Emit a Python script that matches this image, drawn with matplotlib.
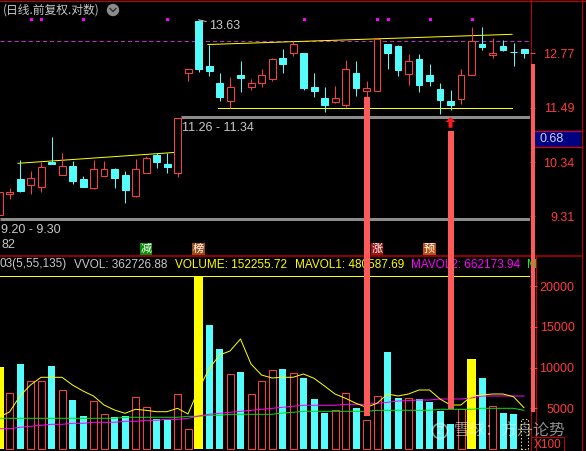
import matplotlib
matplotlib.use("Agg")
import matplotlib.pyplot as plt
import matplotlib.transforms as mtransforms
from matplotlib.patches import Rectangle, Circle, Polygon
from matplotlib.ticker import FixedLocator, FixedFormatter, NullLocator

plt.rcParams['lines.scale_dashes'] = False
plt.rcParams['font.family'] = ['Liberation Sans', 'Noto Sans CJK SC', 'DejaVu Sans']

# ---------------- data ----------------
opens = [9.328, 9.717, 10.004, 9.894, 9.856, 10.346, 10.088, 10.260, 9.998, 9.836,
         10.068, 10.200, 10.082, 9.685, 10.115, 10.481, 10.300, 10.115, 12.283, 13.597,
         12.459, 12.054, 11.647, 12.243, 11.968, 12.047, 12.155, 12.654, 12.770, 12.777,
         11.961, 11.708, 11.624, 11.550, 12.291, 11.875, 11.875, 13.003, 12.952, 12.274,
         12.629, 12.243, 11.915, 11.640, 11.685, 12.243, 13.003, 12.728, 12.952, 12.802,
         12.877]
closes = [9.760, 9.760, 9.774, 10.018, 10.240, 10.300, 10.260, 9.971, 9.856, 10.194,
          10.194, 10.029, 9.793, 10.194, 10.414, 10.346, 10.246, 11.262, 12.379, 12.387,
          12.346, 11.738, 11.954, 12.179, 12.047, 12.243, 12.622, 12.507, 12.995, 11.938,
          11.868, 11.550, 11.708, 12.387, 11.938, 11.938, 13.130, 12.777, 12.363, 12.580,
          12.008, 12.101, 11.663, 11.550, 12.243, 13.079, 12.927, 12.777, 12.852, 12.795,
          12.777]
highs = [9.760, 9.836, 10.380, 10.161, 10.346, 10.860, 10.522, 10.360, 10.063, 10.380,
         10.360, 10.226, 10.161, 10.400, 10.461, 10.516, 10.516, 11.262, 12.379, 13.63,
         12.978, 12.291, 12.188, 12.580, 12.141, 12.379, 12.661, 12.877, 13.086, 12.777,
         12.291, 11.961, 11.984, 12.605, 12.580, 12.101, 13.130, 13.003, 12.978, 12.753,
         12.753, 12.507, 12.054, 11.891, 12.387, 13.439, 13.439, 13.155, 13.104, 13.028,
         12.877]
lows = [9.328, 9.617, 9.760, 9.722, 9.760, 10.294, 10.088, 9.907, 9.856, 9.817,
        10.068, 9.836, 9.554, 9.666, 10.115, 10.226, 10.115, 10.037, 12.108, 12.307,
        12.219, 11.647, 11.476, 11.852, 11.891, 11.968, 12.101, 12.291, 12.711, 11.898,
        11.731, 11.401, 11.588, 11.505, 11.754, 11.731, 11.875, 12.387, 12.219, 12.014,
        11.852, 11.984, 11.357, 11.445, 11.573, 12.243, 12.852, 12.654, 12.827, 12.459,
        12.654]
volumes = [10068, 6843, 10436, 8351, 8351, 10191, 7247, 6021, 4059, 5898,
           4304, 3936, 4059, 6389, 5163, 3691, 3569, 6757, 2465, 21227,
           15218, 12275, 9210, 9455, 6757, 8351, 9700, 9823, 9332, 8719,
           6144, 4427, 4795, 6880, 5040, 3569, 6512, 11907, 6266, 6266,
           6144, 5776, 4672, 3078, 4917, 11049, 8719, 5285, 4427, 4304,
           3691]
mavol1 = [3936, 4550, 6512, 7861, 8805, 8805, 8805, 7861, 7125, 6512,
          5408, 4795, 4390, 4881, 4758, 4586, 4586, 5003, 4304, 7309,
          9823, 11539, 12030, 13502, 10436, 9087, 8719, 8805, 8805, 9210,
          8682, 7738, 6757, 6230, 5616, 5126, 5616, 6757, 6512, 6757,
          7247, 7247, 6144, 5408, 5408, 6512, 6634, 6757, 6757, 6426,
          5077]
mavol2 = [2502, 2502, 2673, 2796, 2919, 3041, 3041, 3164, 3164, 3286,
          3286, 3286, 3409, 3409, 3532, 3532, 3654, 3654, 3777, 4059,
          4268, 4390, 4513, 4635, 4758, 4881, 5003, 5126, 5249, 5371,
          5371, 5371, 5371, 5494, 5494, 5494, 5616, 5739, 5898, 5960,
          6021, 6021, 6144, 6144, 6144, 6266, 6512, 6512, 6512, 6512,
          6512]
mavol3 = [3777] * 12 + [3900] * 6 + [4022, 4022, 4145, 4145] + [4268] * 5 + \
         [4427, 4513] + [4635] * 7 + [4758] * 6 + [4881] * 4 + [5003] * 4 + [4758]

yellow_vol_idx = [0, 19, 45]
pending_idx = 50
signal_dots_idx = [3, 4, 8, 16, 29, 36, 37, 41, 45]
signal_bar_idx = [35, 43]
signal_bar_top = [11.73, 10.98]
signal_bar_bottom_vol = [4096, 4917]
arrow_idx = 43
arrow_price = 11.284
event_idx = [14, 19, 36, 41]
event_text = ['减', '榜', '涨', '预']
event_colors = ['#0b8f0b', '#9c4a12', '#a01212', '#b8500f']
price_ticks = [12.77, 11.49, 10.34, 9.31]
vol_ticks = [5000, 10000, 15000, 20000]
trend_upper_x, trend_upper_y = [19.9, 48.86], [12.99, 13.25]
trend_lower_x, trend_lower_y = [20.86, 48.86], [11.476, 11.476]
trend_left_x, trend_left_y = [1.81, 16.86], [10.314, 10.536]
gap_upper_x, gap_upper_p, gap_upper_lbl = 17.33, 11.295, '11.26 - 11.34'
gap_lower_x, gap_lower_p, gap_lower_lbl = 0.0, 9.262, '9.20 - 9.30'
peak_idx, peak_lbl = 19, '13.63'
ref_dash_price = 13.075
header_parts = [('03(5,55,135)', '#c8c8c8', 0), ('VVOL: 362726.88', '#c8c8c8', 74),
                ('VOLUME: 152255.72', '#ffff00', 175), ('MAVOL1: 480587.69', '#ffff00', 295),
                ('MAVOL2: 662173.94', '#ff00ff', 411), ('M', '#00ff00', 527)]

# ---------------- style ----------------
RED = '#ff3c3c'
CYAN = '#54fcfc'
YEL = '#ffff00'
MAG = '#ff00ff'
GRN = '#00e000'
SALMON = '#ff5a5a'
GRAYLINE = '#8c8c8c'
TXT = '#c8c8c8'
AXRED = '#c00000'
LBLRED = '#ff3c3c'
CJK = ['Noto Sans CJK SC', 'DejaVu Sans']

W, H = 586, 451
PX = 0.72
fig = plt.figure(figsize=(W / 100, H / 100), dpi=100)
fig.patch.set_facecolor('black')

PANEL_R = 530
SEP = 256
STEP = 10.5
X0 = -1.0
price_lo, price_hi = 8.615, 14.163
vol_lo, vol_hi = -233, 23680

ov = fig.add_axes([0, 0, 1, 1], zorder=-5)
ov.set_xlim(0, W); ov.set_ylim(H, 0); ov.axis('off')
ovt = fig.add_axes([0, 0, 1, 1], zorder=10)
ovt.set_xlim(0, W); ovt.set_ylim(H, 0); ovt.axis('off')

ax = fig.add_axes([0, 1 - SEP / H, PANEL_R / W, SEP / H])
axv = fig.add_axes([0, 0, PANEL_R / W, (H - SEP) / H])
for a in (ax, axv):
    a.set_facecolor('none')
    for s in a.spines.values():
        s.set_visible(False)
    a.set_xlim((0 - X0) / STEP, (PANEL_R - X0) / STEP)
    a.set_xticks([])
ax.set_yscale('log')
ax.set_ylim(price_lo, price_hi)
axv.set_ylim(vol_lo, vol_hi)

# ---------------- price panel ----------------
n = len(opens)
BW = 7 / STEP
for i in range(n):
    o, h, l, c = opens[i], highs[i], lows[i], closes[i]
    up = c >= o
    col = RED if up else CYAN
    top, bot = max(o, c), min(o, c)
    if h > top:
        ax.plot([i, i], [top, h], color=col, lw=PX, solid_capstyle='butt', zorder=3)
    if l < bot:
        ax.plot([i, i], [l, bot], color=col, lw=PX, solid_capstyle='butt', zorder=3)
    ax.add_patch(Rectangle((i - BW / 2, bot), BW, top - bot,
                           facecolor='black' if up else col, edgecolor=col, lw=PX, zorder=3))

xl = ax.get_xlim()
ax.plot([xl[0], xl[1]], [ref_dash_price] * 2, color='#c030c8', lw=PX,
        dashes=(2.9, 2.2), zorder=1)
ax.plot([gap_upper_x, xl[1]], [gap_upper_p] * 2, color=GRAYLINE, lw=3 * PX, zorder=1,
        solid_capstyle='butt')
ax.plot([xl[0], xl[1]], [gap_lower_p] * 2, color=GRAYLINE, lw=3 * PX, zorder=1,
        solid_capstyle='butt')
ax.annotate(gap_upper_lbl, xy=(gap_upper_x, gap_upper_p), xytext=(1, -11),
            textcoords='offset pixels', color=TXT, fontsize=9, va='center', ha='left',
            annotation_clip=False)
ax.annotate(gap_lower_lbl, xy=(gap_lower_x, gap_lower_p), xytext=(2, -11.5),
            textcoords='offset pixels', color=TXT, fontsize=9, va='center', ha='left',
            annotation_clip=False)
ax.annotate('82', xy=(gap_lower_x, gap_lower_p), xytext=(2, -26),
            textcoords='offset pixels', color=TXT, fontsize=9, va='center', ha='left',
            annotation_clip=False)

for xs, ys in ((trend_upper_x, trend_upper_y), (trend_lower_x, trend_lower_y),
               (trend_left_x, trend_left_y)):
    ax.plot(xs, ys, color=YEL, lw=PX, zorder=2)

ax.annotate(peak_lbl, xy=(peak_idx, highs[peak_idx]), xytext=(10.5, -6),
            textcoords='offset pixels', color=TXT, fontsize=9, va='center', ha='left',
            arrowprops=dict(arrowstyle='-', color=TXT, lw=PX, shrinkA=0, shrinkB=0))

blend = mtransforms.blended_transform_factory(ax.transData, ax.transAxes)
ax.plot(signal_dots_idx, [1 - 19.3 / SEP] * len(signal_dots_idx), transform=blend,
        ls='none', marker='s', ms=3 * PX, color=MAG, mew=0, clip_on=False)

for i, ch, fc in zip(event_idx, event_text, event_colors):
    ax.text(i, 1 - 248.7 / SEP, ch, transform=blend, color='white', fontsize=8,
            family=CJK, ha='center', va='center', zorder=7,
            bbox=dict(boxstyle='square,pad=0.08', fc=fc, ec='none'))

SW = 6 / STEP
for i, top, vb in zip(signal_bar_idx, signal_bar_top, signal_bar_bottom_vol):
    ax.add_patch(Rectangle((i - SW / 2, price_lo), SW, top - price_lo,
                           facecolor=SALMON, edgecolor='none', zorder=8))
    axv.add_patch(Rectangle((i - SW / 2, vb), SW, vol_hi - vb,
                            facecolor=SALMON, edgecolor='none', zorder=8))

arrow_trans = fig.dpi_scale_trans + mtransforms.ScaledTranslation(
    arrow_idx, arrow_price, ax.transData)
arr = [(0, 0), (-5, -5), (-2, -5), (-2, -10.7), (2, -10.7), (2, -5), (5, -5)]
ax.add_patch(Polygon([(x / 100, y / 100) for x, y in arr], closed=True,
                     transform=arrow_trans, facecolor='#ff1a1a', edgecolor='none', zorder=8))

ax.yaxis.set_major_locator(FixedLocator(price_ticks))
ax.yaxis.set_minor_locator(NullLocator())
ax.yaxis.set_major_formatter(FixedFormatter([f"{t:.2f}" for t in price_ticks]))
ax.tick_params(axis='y', which='both', left=False, labelleft=False, right=True,
               labelright=True, colors=LBLRED, length=5 * PX, width=PX, pad=28.5,
               labelsize=9)
for t in ax.yaxis.get_major_ticks():
    t.label2.set_horizontalalignment('right')

# ---------------- volume panel ----------------
VW = 7 / STEP
YW = 9 / STEP
for i in range(n):
    v = volumes[i]
    if i == pending_idx:
        axv.add_patch(Rectangle((i - VW / 2, 0), VW, v, fill=False, edgecolor=YEL, lw=PX,
                                linestyle=(0, (1, 1.5)), zorder=3))
    elif i in yellow_vol_idx:
        axv.add_patch(Rectangle((i - YW / 2, 0), YW, v, facecolor=YEL, edgecolor='none', zorder=3))
    elif closes[i] >= opens[i]:
        axv.add_patch(Rectangle((i - VW / 2, 0), VW, v, facecolor='black', edgecolor=RED,
                                lw=PX, zorder=3))
    else:
        axv.add_patch(Rectangle((i - VW / 2, 0), VW, v, facecolor=CYAN, edgecolor='none', zorder=3))

idx = list(range(n))
axv.plot(idx, mavol3, color=GRN, lw=PX, zorder=4)
axv.plot(idx, mavol2, color=MAG, lw=PX, zorder=4)
axv.plot(idx, mavol1, color=YEL, lw=PX, zorder=4)
axv.axhline(max(volumes), color=YEL, lw=PX, zorder=2)

axv.yaxis.set_major_locator(FixedLocator(vol_ticks))
axv.yaxis.set_major_formatter(FixedFormatter([str(t) for t in vol_ticks]))
axv.tick_params(axis='y', left=False, labelleft=False, right=True, labelright=True,
                colors=LBLRED, length=7 * PX, width=PX, pad=27, labelsize=9)
for t in axv.yaxis.get_major_ticks():
    t.label2.set_horizontalalignment('right')

# ---------------- frame / decorations ----------------
ov.plot([0, W], [0.5, 0.5], color=AXRED, lw=1.2 * PX)
ov.plot([0, 582], [SEP, SEP], color=AXRED, lw=1.5 * PX)
ov.plot([530.5, 530.5], [0, H], color=AXRED, lw=PX)
ov.plot([535.5, 535.5], [SEP, H], color=AXRED, lw=PX)
ov.plot([581.5, 581.5], [0, H], color=AXRED, lw=PX)
ov.add_patch(Rectangle((535, 130), 46, 16.7, facecolor='#000080', edgecolor='none'))
ov.plot([535, 581], [130.5, 130.5], color='#e00000', lw=1.2 * PX)
ov.plot([535, 581], [146.5, 146.5], color='#e00000', lw=1.2 * PX)
ov.text(539, 138.5, '0.68', color='#d0d0f0', fontsize=9, va='center', ha='left')
ov.text(3, 10.5, '(日线.前复权.对数)', color=TXT, fontsize=8.5, family=CJK,
        va='center', ha='left')
ov.add_patch(Circle((113, 10), 6.2, facecolor='#8c8c8c', edgecolor='none'))
ov.plot([110, 113, 116], [8.5, 11.5, 8.5], color='#2a2a2a', lw=1.3 * PX)
for s, col, x in header_parts:
    ov.text(x, 264.5, s, color=col, fontsize=8.5, va='center', ha='left')

ovt.add_patch(Rectangle((531, 64), 4, 348, facecolor=SALMON, edgecolor='none'))
ovt.add_patch(Rectangle((530.7, 436.7), 33.3, 15, fill=False, edgecolor=AXRED, lw=PX))
ovt.text(534, 444.5, 'X100', color=LBLRED, fontsize=8.5, va='center', ha='left')
ovt.add_patch(Circle((440, 431), 7.5, fill=False, edgecolor='white', lw=1.8 * PX, alpha=0.55))
ovt.text(440, 431.5, 'Z', color='white', alpha=0.55, fontsize=8, ha='center', va='center',
         fontweight='bold')
ovt.text(454, 431, '雪球：方舟论势', color='white', alpha=0.55, fontsize=11.5, family=CJK,
         va='center', ha='left')

fig.savefig('out.png', dpi=100, facecolor='black')
